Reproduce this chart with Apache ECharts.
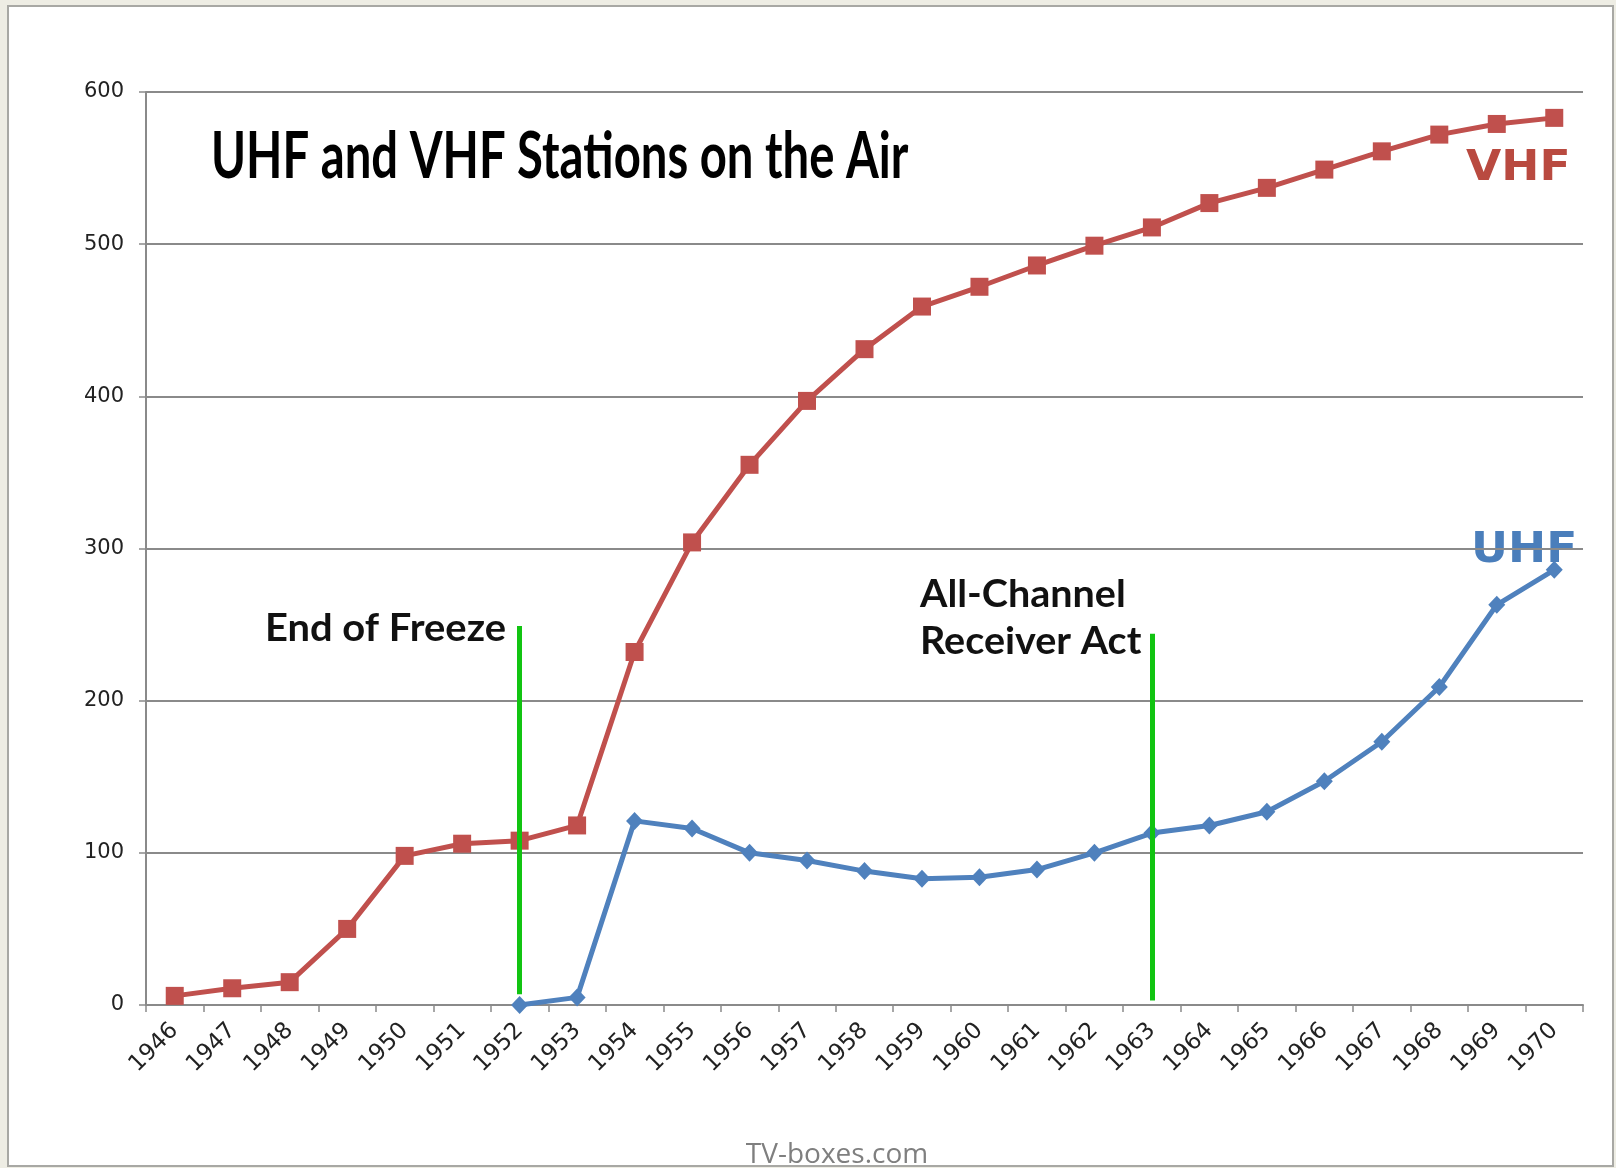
<!DOCTYPE html>
<html>
<head>
<meta charset="utf-8">
<title>UHF and VHF Stations on the Air</title>
<script src="https://cdn.jsdelivr.net/npm/echarts@6/dist/echarts.min.js"></script>
<style>
  html, body { margin: 0; padding: 0; background: #eeede4; }
  #chart { width: 1616px; height: 1168px; }
</style>
</head>
<body>
<div id="chart"></div>
<script>
const years = ['1946', '1947', '1948', '1949', '1950', '1951', '1952', '1953', '1954',
  '1955', '1956', '1957', '1958', '1959', '1960', '1961', '1962', '1963', '1964',
  '1965', '1966', '1967', '1968', '1969', '1970']
const vhf = [6, 11, 15, 50, 98, 106, 108, 118, 232, 304, 355, 397, 431, 459, 472,
  486, 499, 511, 527, 537, 549, 561, 572, 579, 583]
const uhf = [null, null, null, null, null, null, 0, 5, 121, 116, 100, 95, 88, 83, 84,
  89, 100, 113, 118, 127, 147, 173, 209, 263, 286]
// green event lines: year, top value, bottom value
const eventYears = ['1952', '1963']
const eventTop = [249, 244]
const eventBottom = [7, 3]

const chart = echarts.init(document.getElementById('chart'), null, { renderer: 'canvas' })

const eventLines = eventYears.map((y, i) => [
  { coord: [y, eventTop[i]] },
  { coord: [y, eventBottom[i]] }
])

const noteFont = 'bold 38px Lato, "Liberation Sans", sans-serif'

const option = {
  backgroundColor: 'transparent',
  animation: false,
  grid: { left: 146, right: 33, top: 92, bottom: 163 },
  graphic: [
    {
      type: 'rect',
      shape: { x: 8, y: 6, width: 1605, height: 1160 },
      style: { fill: '#ffffff', stroke: '#a8a8a4', lineWidth: 2 },
      z: -10
    },
    {
      type: 'text', x: 211, y: 125, scaleX: 0.727,
      style: { text: 'UHF and VHF Stations on the Air', font: 'bold 65px Lato, "Liberation Sans", sans-serif', fill: '#000' }
    },
    {
      type: 'text', x: 1466, y: 147, scaleX: 1.06,
      style: { text: 'VHF', font: 'bold 43px "DejaVu Sans", Verdana, sans-serif', fill: '#b94a40' }
    },
    {
      type: 'text', x: 1471, y: 529, scaleX: 1.06,
      style: { text: 'UHF', font: 'bold 43px "DejaVu Sans", Verdana, sans-serif', fill: '#4a7ebb' }
    },
    {
      type: 'text', x: 265, y: 610, scaleX: 1.05,
      style: { text: 'End of Freeze', font: noteFont, fill: '#111' }
    },
    {
      type: 'text', x: 920, y: 571, scaleX: 1.04,
      style: { text: 'All-Channel\nReceiver Act', font: noteFont, lineHeight: 47, fill: '#111' }
    },
    {
      type: 'text', x: 837, y: 1141,
      style: { text: 'TV-boxes.com', font: '28px "Open Sans", sans-serif', fill: '#7f7f7f', align: 'center' }
    }
  ],
  xAxis: {
    type: 'category',
    data: years,
    boundaryGap: true,
    axisLine: { lineStyle: { color: '#8a8a8a', width: 2 } },
    axisTick: { show: true, length: 7, lineStyle: { color: '#8a8a8a', width: 1.5 } },
    axisLabel: {
      rotate: 45, margin: 22, interval: 0,
      fontFamily: '"DejaVu Sans", Verdana, sans-serif', fontSize: 23, color: '#222'
    }
  },
  yAxis: {
    type: 'value',
    min: 0, max: 600, interval: 100,
    axisLine: { show: true, lineStyle: { color: '#8a8a8a', width: 2 } },
    axisTick: { show: true, length: 7, lineStyle: { color: '#8a8a8a', width: 1.5 } },
    splitLine: { lineStyle: { color: '#8a8a8a', width: 2 } },
    axisLabel: {
      margin: 22,
      fontFamily: '"DejaVu Sans", Verdana, sans-serif', fontSize: 21, color: '#222'
    }
  },
  series: [
    {
      name: 'VHF',
      type: 'line',
      data: vhf,
      symbol: 'rect',
      symbolSize: 18,
      lineStyle: { color: '#c0504d', width: 5 },
      itemStyle: { color: '#c0504d' },
      z: 3
    },
    {
      name: 'UHF',
      type: 'line',
      data: uhf,
      symbol: 'diamond',
      symbolSize: [17, 18],
      lineStyle: { color: '#4f81bd', width: 5 },
      itemStyle: { color: '#4f81bd' },
      z: 3,
      markLine: {
        silent: true,
        symbol: ['none', 'none'],
        label: { show: false },
        lineStyle: { color: '#11c411', width: 5, type: 'solid' },
        data: eventLines,
        z: 5
      }
    }
  ]
}

chart.setOption(option)
</script>
</body>
</html>
